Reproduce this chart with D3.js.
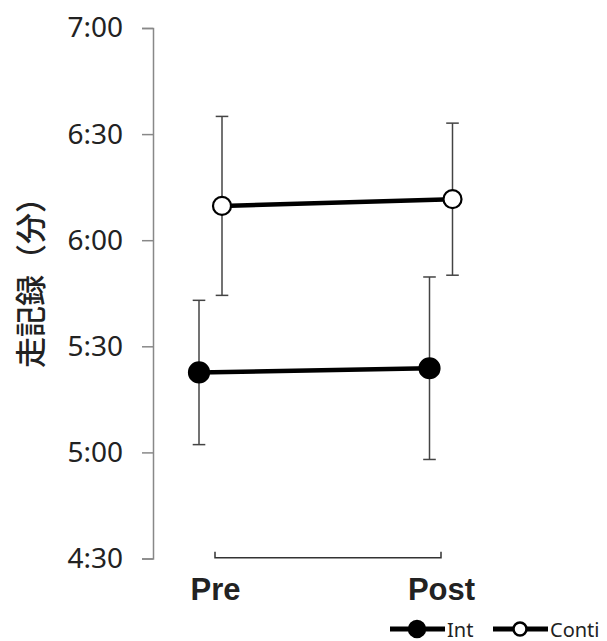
<!DOCTYPE html>
<html><head><meta charset="utf-8">
<script src="https://cdn.jsdelivr.net/npm/d3@7"></script>
<style>html,body{margin:0;padding:0;background:#fff;}svg{display:block;}</style>
</head><body>
<svg id="chart" width="607" height="641"></svg>
<script>
// ---- data (seconds) ----
const categories = ["Pre", "Post"];
const seriesNames = ["Int", "Conti"];
const intMean = [322.6, 323.8];
const intSD = [20.4, 25.8];
const contiMean = [369.7, 371.6];
const contiSD = [25.3, 21.5];
const yTicks = [270, 300, 330, 360, 390, 420];
const yTickLabels = ["4:30", "5:00", "5:30", "6:00", "6:30", "7:00"];
const yTitle = "走記録（分）";

const series = [
  {name: seriesNames[0], mean: intMean, sd: intSD, fill: "#000", offset: -1},
  {name: seriesNames[1], mean: contiMean, sd: contiSD, fill: "#fff", offset: 1}
];

const svg = d3.select("#chart");
const y = d3.scaleLinear().domain([270, 420]).range([558.5, 28]);
const xAxisScale = d3.scalePoint().domain(categories).range([215, 441]);
const xMark = d3.scalePoint().domain(categories).range([210.5, 441]);
const off = 11.5;

// y axis
const yAxis = d3.axisLeft(y).tickValues(yTicks)
  .tickFormat((d, i) => yTickLabels[i]).tickSize(11).tickPadding(19);
const gy = svg.append("g").attr("transform", "translate(153,0)").call(yAxis);
gy.select(".domain").attr("stroke", "#888").attr("stroke-width", 1.5);
gy.selectAll(".tick line").attr("stroke", "#888").attr("stroke-width", 1.5);
gy.selectAll(".tick text").attr("fill", "#222")
  .style("font-family", "'Noto Sans', sans-serif").style("font-size", "28px");

// y title
svg.append("text")
  .attr("transform", "translate(28,275) rotate(-90)")
  .attr("text-anchor", "middle").attr("dominant-baseline", "central")
  .style("font-family", "'Noto Sans CJK JP', sans-serif").style("font-size", "31px")
  .style("font-weight", "500")
  .attr("fill", "#222").text(yTitle);

// category bracket axis
const gx = svg.append("g");
gx.append("path")
  .attr("d", `M${xAxisScale("Pre")},551.7V557.7H${xAxisScale("Post")}V551.7`)
  .attr("fill", "none").attr("stroke", "#333").attr("stroke-width", 1.5);
gx.selectAll("text.cat").data(categories).join("text")
  .attr("class", "cat")
  .attr("x", d => xAxisScale(d) + 0.5).attr("y", 599.5)
  .attr("text-anchor", "middle")
  .style("font-family", "'Liberation Sans', Arial, sans-serif")
  .style("font-weight", "bold").style("font-size", "31px")
  .attr("fill", "#222").text(d => d);

// error bars
const cap = 6.3;
series.forEach(s => {
  const g = svg.append("g");
  categories.forEach((c, i) => {
    const cx = xMark(c) + s.offset * off;
    const top = y(s.mean[i] + s.sd[i]), bot = y(s.mean[i] - s.sd[i]);
    g.append("line").attr("x1", cx).attr("x2", cx).attr("y1", top).attr("y2", bot)
      .attr("stroke", "#444").attr("stroke-width", 1.5);
    [top, bot].forEach(yy => g.append("line")
      .attr("x1", cx - cap).attr("x2", cx + cap).attr("y1", yy).attr("y2", yy)
      .attr("stroke", "#444").attr("stroke-width", 1.5));
  });
});

// lines + markers
const line = d3.line().x(d => d[0]).y(d => d[1]);
series.forEach(s => {
  const pts = categories.map((c, i) => [xMark(c) + s.offset * off, y(s.mean[i])]);
  svg.append("path").attr("d", line(pts)).attr("fill", "none")
    .attr("stroke", "#000").attr("stroke-width", 4.5);
  svg.selectAll(null).data(pts).join("circle")
    .attr("cx", d => d[0]).attr("cy", d => d[1])
    .attr("r", s.fill === "#000" ? 10 : 9)
    .attr("fill", s.fill).attr("stroke", "#000").attr("stroke-width", 2.2);
});

// legend
const legendX = [390, 493];
const lg = svg.append("g");
series.forEach((s, i) => {
  const lx = legendX[i], ly = 629;
  lg.append("line").attr("x1", lx).attr("x2", lx + 55).attr("y1", ly).attr("y2", ly)
    .attr("stroke", "#000").attr("stroke-width", 5);
  lg.append("circle").attr("cx", lx + 27).attr("cy", ly)
    .attr("r", s.fill === "#000" ? 8 : 6.5)
    .attr("fill", s.fill).attr("stroke", "#000").attr("stroke-width", 2.5);
  lg.append("text").attr("x", lx + 57).attr("y", ly + 7.5)
    .style("font-family", "'Noto Sans', sans-serif").style("font-size", "20px")
    .attr("fill", "#222").text(s.name);
});
</script>
</body></html>
